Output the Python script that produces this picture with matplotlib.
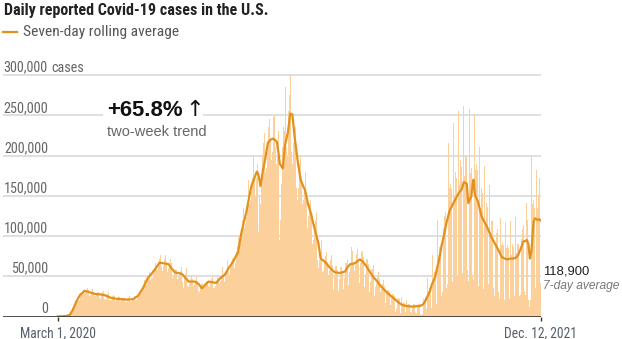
import matplotlib.pyplot as plt
import matplotlib.font_manager as fm
import numpy as np

# daily reported cases in thousands, one row per week (Sunday first), from Sunday March 1, 2020
daily_k = [
    0, 0, 0, 0.1, 0.1, 0.1, 0.1,
    0.1, 0.2, 0.3, 0.4, 0.5, 0.8, 1.0,
    1.0, 1.3, 1.8, 2.7, 4.0, 5.5, 6.9,
    9.3, 10.1, 11.2, 13.1, 17.5, 18.8, 19.5,
    19.3, 21, 25.1, 26.3, 28.4, 32.1, 33.3,
    27, 29, 30.5, 31.5, 33, 35.5, 33,
    26, 25.5, 27, 30, 33, 34, 31,
    25, 24, 26, 28, 30, 33, 30,
    24, 22, 25, 27, 30, 32, 29,
    22, 21, 23, 26, 28, 30, 27,
    20, 20, 21, 23, 25, 27, 25,
    19, 19, 20, 22, 24, 26, 24,
    19, 17, 20, 21, 23, 25, 23,
    18, 18, 19, 21, 23, 25, 23,
    19, 18, 20, 22, 23, 25, 23,
    21, 20, 23, 25.5, 27, 31, 31,
    28, 29, 33, 36, 39, 45, 44,
    40, 41, 45, 50, 55, 57, 45,
    48, 48, 53, 58, 60, 67, 66,
    60, 58, 64, 68, 71, 77, 63,
    62, 57, 63, 68, 72, 76, 68,
    56, 55, 60, 67, 70, 71, 66,
    48, 46, 51, 54, 59, 62, 58,
    47, 45, 49, 54, 57, 63, 61,
    43, 36, 44, 48, 53, 60, 55,
    38, 37, 40, 43, 47, 51, 47,
    35, 38, 40, 43, 48, 52, 44,
    32, 26, 30, 37, 41, 48, 42,
    35, 34, 37, 40, 44, 48, 44,
    38, 37, 39, 43, 47, 51, 47,
    36, 35, 38, 43, 45, 50, 46,
    38, 41, 44, 50, 54, 61, 52,
    43, 45, 51, 58, 62, 70, 57,
    51, 56, 60, 69, 73, 82, 68,
    60, 66, 71, 80, 88, 99, 85,
    82, 90, 97, 112, 120, 135, 110,
    105, 115, 124, 142, 152, 170, 140,
    135, 145, 155, 172, 185, 200, 175,
    150, 158, 172, 190, 105, 200, 150,
    140, 165, 180, 200, 215, 228, 200,
    180, 185, 205, 225, 235, 245, 220,
    185, 195, 205, 245, 248, 250, 210,
    185, 190, 200, 230, 225, 95, 120,
    165, 185, 210, 235, 230, 150, 285,
    210, 200, 235, 255, 275, 300, 260,
    205, 190, 215, 220, 225, 235, 200,
    160, 145, 160, 185, 190, 200, 175,
    135, 140, 145, 160, 170, 180, 150,
    110, 120, 125, 140, 145, 155, 125,
    90, 95, 100, 115, 120, 130, 105,
    70, 60, 65, 70, 80, 95, 80,
    55, 56, 70, 73, 75, 80, 68,
    38, 52, 58, 70, 70, 76, 64,
    33, 47, 52, 63, 63, 69, 58,
    32, 46, 51, 62, 62, 68, 57,
    34, 48, 54, 66, 66, 72, 60,
    39, 55, 62, 75, 86, 81, 68,
    35, 57, 64, 78, 80, 84, 71,
    42, 60, 66, 80, 81, 88, 74,
    37, 53, 59, 71, 71, 78, 65,
    31, 43, 48, 59, 59, 64, 54,
    26, 37, 42, 51, 51, 55, 46,
    22, 31, 34, 41, 41, 45, 38,
    17, 25, 28, 33, 33, 36, 30,
    14, 20, 23, 28, 28, 30, 25,
    6, 9, 30, 22, 23, 22, 7,
    4, 24, 15, 17, 18, 17, 5,
    4, 21, 14, 16, 16, 16, 5,
    4, 20, 13, 15, 15, 15, 4,
    4, 22, 14, 16, 16, 14, 3,
    2, 3, 30, 22, 22, 24, 7,
    9, 48, 30, 35, 36, 37, 10,
    14, 76, 48, 55, 58, 56, 16,
    22, 120, 76, 86, 90, 86, 25,
    30, 170, 110, 125, 130, 125, 36,
    40, 215, 140, 160, 165, 158, 46,
    43, 240, 150, 172, 180, 172, 50,
    46, 255, 163, 186, 194, 186, 54,
    50, 262, 175, 200, 207, 198, 58,
    44, 60, 258, 178, 185, 178, 52,
    45, 250, 160, 182, 190, 182, 53,
    38, 210, 135, 154, 160, 154, 45,
    34, 187, 119, 136, 141, 136, 40,
    30, 163, 104, 119, 124, 119, 35,
    26, 140, 91, 104, 109, 104, 30,
    22, 122, 78, 89, 93, 89, 26,
    21, 117, 75, 85, 89, 85, 25,
    22, 119, 76, 86, 90, 86, 25,
    22, 124, 79, 90, 94, 90, 26,
    27, 150, 96, 109, 114, 109, 32,
    27, 141, 105, 120, 20, 45, 12,
    20, 199, 151, 140, 145, 135, 40,
    36, 182, 135, 145, 150, 172, 42,
    38,
]

avg_day = [0, 10, 16, 20, 25, 30, 36, 43, 50, 57, 63, 72, 79, 86, 93, 101, 108,
           115, 121, 126, 131, 137, 143, 149, 153, 158, 163, 167, 172, 176, 185,
           190, 194, 199, 203, 211, 214, 218, 225, 230, 236, 243, 247, 250, 254,
           258, 261, 264, 268, 270, 273, 276, 279, 283, 287, 290, 293, 295, 297,
           299, 303, 306, 310, 313, 316, 319, 323, 327, 330, 333, 337, 341, 344,
           348, 351, 354, 357, 360, 366, 373, 380, 387, 391, 394, 400, 404, 407,
           411, 416, 420, 425, 430, 434, 443, 452, 457, 461, 465, 470, 475, 479,
           484, 488, 492, 495, 498, 501, 504, 508, 511, 514, 517, 520, 524, 528,
           533, 537, 540, 544, 547, 551, 553, 555, 557, 559, 560, 562, 566, 571,
           575, 578, 584, 591, 595, 598, 602, 605, 610, 614, 617, 620, 624, 627,
           630, 632, 634, 636, 638, 641, 643, 646, 648, 651]
avg_k = [0.1, 0.5, 2, 8, 19, 27, 32, 30, 28, 27.5, 26.5, 23, 22, 21.5, 21, 21.5, 25.7,
         36, 47.6, 53, 58.8, 67, 66, 65, 60, 54.6, 54, 53, 48, 43.4, 43.4,
         40, 35, 40, 43.4, 42, 42, 47, 52, 60, 68, 80.6, 103, 115, 130,
         150, 163, 170, 180, 177, 162, 180, 194, 216, 220, 221, 219, 217, 205,
         190, 184, 213, 229, 252, 251, 223, 194, 170, 163, 157, 140, 128, 116,
         102, 91, 72, 70, 68, 61, 55, 54, 56, 62, 65, 66, 69, 71,
         68, 62, 56, 49, 44, 39, 30, 23, 19, 16, 14, 13, 12.5, 12.3,
         12.8, 13, 15, 19, 25, 31, 40, 48, 60, 72, 88, 100, 118, 132,
         141, 148, 153, 158, 167, 165, 141, 145, 149, 165, 170, 151, 143, 124,
         117, 112, 99, 87, 80, 74, 72, 71, 72, 72, 73, 76, 85, 93,
         94, 95, 90, 72, 80, 118, 122, 120, 121, 119]

ytick_k = [0, 50, 100, 150, 200, 250, 300]
ytick_labels = ["0", "50,000", "100,000", "150,000", "200,000", "250,000", "300,000"]
xtick_day = [0, 651]
xtick_labels = ["March 1, 2020", "Dec. 12, 2021"]

# pick a condensed face if one is installed, else plain Liberation Sans
ttf = fm.fontManager.ttflist
names = {f.name for f in ttf}
NARROW = dict(family=['Liberation Sans', 'DejaVu Sans'])
for cand in ['Liberation Sans Narrow', 'Roboto Condensed', 'Open Sans Condensed',
             'Noto Sans Condensed', 'Arial Narrow']:
    if cand in names:
        NARROW = dict(family=[cand, 'DejaVu Sans'])
        break
else:
    if any(f.name == 'DejaVu Sans' and f.stretch == 'condensed' for f in ttf):
        NARROW = dict(family=['DejaVu Sans'], fontstretch='condensed')
REG = dict(family=['Liberation Sans', 'DejaVu Sans'])

BAR = '#fcd09b'
LINE = '#e3911e'

W, H = 622, 339
fig = plt.figure(figsize=(W / 100, H / 100), dpi=100)
ax = fig.add_axes([3 / W, 1 - 316.5 / H, 538 / W, 249.5 / H])
ax.set_xlim(-74, 651)
ax.set_ylim(0, 310)
ax.axis('off')

for v in ytick_k[1:]:
    ax.axhline(v, color='#d9d9d9', lw=1.2, zorder=0)

days = np.arange(len(daily_k))
ax.bar(days, daily_k, width=1.0, color=BAR, linewidth=0, zorder=1)
ax.plot(avg_day, avg_k, color=LINE, lw=1.6, zorder=3, solid_joinstyle='round')

ax.axhline(0, color='#333333', lw=1.2, zorder=4)
ax.vlines(xtick_day, -6, 0, color='#333333', lw=1, clip_on=False, zorder=4)

ylabs = []
for v, lab in zip(ytick_k, ytick_labels):
    t = ax.annotate(lab, xy=(-13.5, v), xytext=(0, 2.5), textcoords='offset points',
                    ha='right', va='baseline', fontsize=10, color='#666666', **NARROW)
    ylabs.append(t)
t_cases = ax.annotate('cases', xy=(-13.5, 300), xytext=(2.4, 2.5), textcoords='offset points',
                      ha='left', va='baseline', fontsize=10, color='#666666', **NARROW)

xlabs = []
for d, lab in zip(xtick_day, xtick_labels):
    t = ax.annotate(lab, xy=(d, 0), xytext=(0, -15), textcoords='offset points',
                    ha='center', va='baseline', fontsize=10, color='#56606c', **NARROW)
    xlabs.append(t)


def px(x, y):
    return x / W, 1 - y / H


title = fig.text(*px(4, 15.5), 'Daily reported Covid-19 cases in the U.S.', fontsize=10,
                 fontweight='bold', color='#222222', va='baseline', **NARROW)
fig.add_artist(plt.Line2D([3 / W, 17 / W], [1 - 32.3 / H] * 2, color=LINE, lw=1.6))
legend = fig.text(*px(23, 36), 'Seven-day rolling average', fontsize=10, color='#555555',
                  va='baseline', **NARROW)

# white patch that breaks the 250,000 gridline behind the trend figure
fig.add_artist(plt.Rectangle(px(103, 119), 100 / W, 22 / H, facecolor='white',
                             edgecolor='none', zorder=5))
trend = fig.text(*px(107, 116), '+65.8%', fontsize=15, fontweight='semibold',
                 color='#111111', va='baseline', zorder=6, **REG)
arrow = fig.text(*px(185, 116.5), '\u2191', fontsize=16, color='#111111',
                 va='baseline', zorder=6, family=['DejaVu Sans'])
trend_sub = fig.text(*px(107, 135.7), 'two-week trend', fontsize=9.6, color='#666666',
                     va='baseline', **REG)

last = fig.text(*px(543, 275), '118,900', fontsize=9.4, color='#222222', va='baseline', **REG)
last_sub = fig.text(*px(543, 289.3), '7-day average', fontsize=8.5, color='#777777',
                    style='italic', va='baseline', **REG)

# scale each text so its width matches the reference
fig.canvas.draw()
r = fig.canvas.get_renderer()


def fit(items, target):
    w = items[0].get_window_extent(r).width
    k = target / w
    for it in items:
        it.set_fontsize(it.get_fontsize() * k)


fit(ylabs[-2:-1] + ylabs + [t_cases], 44)
fit(xlabs, 76)
fit([title], 264)
fit([legend], 155)
fit([trend], 76)
fit([trend_sub], 100)
fit([last], 46)
fit([last_sub], 76)

fig.savefig('out.png', dpi=100)
